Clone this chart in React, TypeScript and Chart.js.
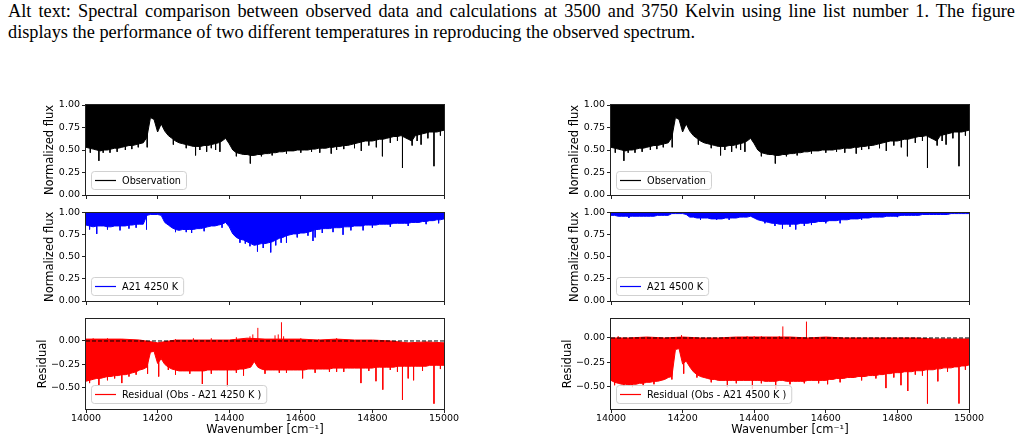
import React, { useEffect, useRef } from 'react';
import { Chart, registerables } from 'chart.js';

Chart.register(...registerables);

const FONT = "'DejaVu Sans', sans-serif";
const TICK_SIZE = 9.5;

// ---------------- data ----------------
const wavenumbers = Array.from({ length: 101 }, (_, i) => 14000 + 10 * i);
const coarseWavenumbers = Array.from({ length: 21 }, (_, i) => 14000 + 50 * i);
const xTicks = [14000, 14200, 14400, 14600, 14800, 15000];
const fluxTicks = [0, 0.25, 0.5, 0.75, 1.0];
const residualTicks = [-0.5, -0.25, 0.0];

// observed spectrum: lower envelope of the dense line forest (flux reaches 1.0 on top)
const obsLow = [
  0.53, 0.52, 0.51, 0.50, 0.49, 0.50, 0.50, 0.51, 0.52, 0.52,
  0.53, 0.54, 0.55, 0.55, 0.56, 0.57, 0.58, 0.64, 0.86, 0.84,
  0.70, 0.79, 0.71, 0.66, 0.63, 0.60, 0.58, 0.57, 0.56, 0.55,
  0.54, 0.54, 0.54, 0.55, 0.55, 0.56, 0.57, 0.58, 0.60, 0.63,
  0.57, 0.50, 0.47, 0.46, 0.45, 0.45, 0.44, 0.44, 0.45, 0.45,
  0.46, 0.46, 0.47, 0.47, 0.48, 0.48, 0.49, 0.49, 0.49, 0.50,
  0.50, 0.50, 0.50, 0.51, 0.51, 0.52, 0.52, 0.52, 0.53, 0.53,
  0.54, 0.54, 0.55, 0.55, 0.56, 0.57, 0.58, 0.59, 0.60, 0.60,
  0.60, 0.61, 0.62, 0.62, 0.63, 0.64, 0.65, 0.65, 0.66, 0.64,
  0.62, 0.60, 0.66, 0.67, 0.68, 0.69, 0.70, 0.70, 0.70, 0.71,
  0.72,
];
const obsLines: [number, number][] = [
  [14012, 0.47], [14036, 0.38], [14048, 0.47], [14067, 0.47], [14087, 0.48],
  [14110, 0.50], [14128, 0.51], [14146, 0.53], [14171, 0.53], [14244, 0.56],
  [14280, 0.52], [14306, 0.44], [14318, 0.50], [14337, 0.48], [14350, 0.52],
  [14362, 0.50], [14374, 0.48], [14420, 0.43], [14459, 0.35], [14490, 0.43],
  [14520, 0.44], [14560, 0.46], [14600, 0.47], [14630, 0.48], [14653, 0.47],
  [14685, 0.46], [14700, 0.50], [14720, 0.51], [14750, 0.52], [14769, 0.49],
  [14790, 0.55], [14811, 0.53], [14828, 0.43], [14850, 0.58], [14870, 0.60],
  [14884, 0.30], [14911, 0.55], [14925, 0.60], [14936, 0.56], [14955, 0.63],
  [14972, 0.32], [14990, 0.66],
];

// A21 4250 K model
const model4250Low = [
  0.86, 0.85, 0.84, 0.85, 0.85, 0.85, 0.84, 0.84, 0.85, 0.85,
  0.85, 0.85, 0.86, 0.86, 0.87, 0.87, 0.87, 0.97, 0.98, 0.98,
  0.98, 0.97, 0.89, 0.86, 0.83, 0.81, 0.80, 0.81, 0.81, 0.81,
  0.81, 0.82, 0.82, 0.83, 0.84, 0.85, 0.85, 0.86, 0.87, 0.89,
  0.84, 0.76, 0.72, 0.70, 0.69, 0.67, 0.65, 0.63, 0.64, 0.65,
  0.65, 0.66, 0.67, 0.69, 0.71, 0.72, 0.74, 0.75, 0.76, 0.76,
  0.77, 0.77, 0.78, 0.79, 0.81, 0.81, 0.82, 0.82, 0.82, 0.83,
  0.83, 0.83, 0.84, 0.84, 0.84, 0.85, 0.85, 0.85, 0.86, 0.86,
  0.86, 0.86, 0.87, 0.87, 0.87, 0.87, 0.88, 0.88, 0.88, 0.88,
  0.88, 0.89, 0.89, 0.89, 0.90, 0.90, 0.91, 0.91, 0.92, 0.92,
  0.93,
];
const model4250Lines: [number, number][] = [
  [14010, 0.81], [14030, 0.76], [14060, 0.81], [14095, 0.80], [14120, 0.82],
  [14140, 0.83], [14169, 0.81], [14250, 0.78], [14280, 0.78], [14295, 0.77],
  [14330, 0.79], [14380, 0.83], [14430, 0.66], [14445, 0.65], [14458, 0.62],
  [14479, 0.56], [14495, 0.60], [14516, 0.55], [14530, 0.63], [14545, 0.66],
  [14560, 0.66], [14590, 0.72], [14620, 0.74], [14634, 0.68], [14640, 0.72],
  [14660, 0.77], [14690, 0.78], [14718, 0.75], [14740, 0.80], [14774, 0.80],
  [14800, 0.83], [14850, 0.84], [14900, 0.85], [14950, 0.87], [14985, 0.88],
];

// A21 4500 K model
const model4500Low = [
  0.97, 0.97, 0.96, 0.96, 0.96, 0.96, 0.96, 0.96, 0.96, 0.96,
  0.96, 0.96, 0.96, 0.97, 0.97, 0.97, 0.97, 0.99, 0.99, 0.99,
  0.99, 0.98, 0.95, 0.95, 0.94, 0.94, 0.94, 0.94, 0.93, 0.93,
  0.93, 0.93, 0.94, 0.94, 0.94, 0.94, 0.95, 0.95, 0.95, 0.96,
  0.94, 0.92, 0.91, 0.90, 0.89, 0.88, 0.88, 0.87, 0.87, 0.87,
  0.87, 0.87, 0.87, 0.88, 0.88, 0.88, 0.89, 0.89, 0.90, 0.90,
  0.90, 0.91, 0.91, 0.91, 0.92, 0.92, 0.92, 0.93, 0.93, 0.93,
  0.94, 0.94, 0.94, 0.95, 0.95, 0.95, 0.95, 0.96, 0.96, 0.96,
  0.96, 0.97, 0.97, 0.97, 0.97, 0.97, 0.97, 0.98, 0.98, 0.98,
  0.98, 0.98, 0.98, 0.98, 0.98, 0.99, 0.99, 0.99, 0.99, 0.99,
  0.99,
];
const model4500Lines: [number, number][] = [
  [14050, 0.94], [14250, 0.92], [14295, 0.92], [14330, 0.92], [14430, 0.88],
  [14458, 0.85], [14479, 0.82], [14500, 0.84], [14516, 0.81], [14540, 0.85],
  [14560, 0.86], [14600, 0.88], [14640, 0.88], [14700, 0.92], [14800, 0.95],
];

// residual Obs - A21 4250 K
const resid4250Low = [
  -0.43, -0.42, -0.41, -0.40, -0.40, -0.39, -0.38, -0.38, -0.37, -0.37,
  -0.36, -0.36, -0.35, -0.34, -0.33, -0.31, -0.30, -0.28, -0.12, -0.11,
  -0.24, -0.19, -0.25, -0.28, -0.30, -0.31, -0.32, -0.32, -0.32, -0.32,
  -0.32, -0.32, -0.32, -0.32, -0.31, -0.31, -0.31, -0.31, -0.31, -0.31,
  -0.31, -0.31, -0.31, -0.30, -0.30, -0.29, -0.28, -0.22, -0.28, -0.30,
  -0.31, -0.31, -0.31, -0.31, -0.31, -0.31, -0.31, -0.31, -0.31, -0.31,
  -0.31, -0.31, -0.30, -0.30, -0.30, -0.30, -0.30, -0.30, -0.30, -0.29,
  -0.29, -0.29, -0.29, -0.29, -0.29, -0.29, -0.29, -0.29, -0.29, -0.29,
  -0.29, -0.28, -0.28, -0.28, -0.28, -0.28, -0.28, -0.27, -0.27, -0.27,
  -0.27, -0.27, -0.27, -0.27, -0.27, -0.27, -0.26, -0.26, -0.26, -0.26,
  -0.26,
];
const resid4250High = [
  0.02, 0.02, 0.02, 0.01, -0.02, 0.01, 0.01, 0.01, 0.01, 0.03, 0.02,
  0.02, 0.02, 0.01, 0.02, 0.01, 0.01, 0.00, -0.02, -0.01, -0.02,
];
const resid4250DownLines: [number, number][] = [
  [14010, -0.45], [14036, -0.47], [14060, -0.42], [14080, -0.40], [14100, -0.45],
  [14120, -0.38], [14140, -0.36], [14172, -0.35], [14203, -0.38], [14230, -0.31],
  [14250, -0.36], [14290, -0.35], [14325, -0.46], [14350, -0.35], [14395, -0.49],
  [14420, -0.34], [14440, -0.37], [14500, -0.35], [14540, -0.34], [14560, -0.34],
  [14605, -0.40], [14640, -0.34], [14680, -0.33], [14700, -0.33], [14720, -0.33],
  [14768, -0.45], [14790, -0.32], [14810, -0.43], [14829, -0.52], [14850, -0.31],
  [14870, -0.33], [14884, -0.63], [14900, -0.40], [14915, -0.42], [14940, -0.32],
  [14972, -0.67], [14990, -0.30],
];
const resid4250UpLines: [number, number][] = [
  [14020, 0.03], [14060, 0.03], [14100, 0.02], [14250, 0.02], [14300, 0.03],
  [14350, 0.03], [14420, 0.04], [14458, 0.05], [14466, 0.07], [14480, 0.14],
  [14528, 0.06], [14537, 0.07], [14546, 0.20], [14552, 0.05], [14600, 0.03],
  [14650, 0.02], [14700, 0.03],
];

// residual Obs - A21 4500 K
const resid4500Low = [
  -0.44, -0.46, -0.47, -0.48, -0.48, -0.49, -0.48, -0.48, -0.47, -0.47,
  -0.46, -0.46, -0.45, -0.45, -0.44, -0.43, -0.41, -0.40, -0.12, -0.11,
  -0.27, -0.24, -0.30, -0.35, -0.38, -0.40, -0.41, -0.42, -0.43, -0.43,
  -0.44, -0.44, -0.44, -0.44, -0.44, -0.44, -0.44, -0.44, -0.44, -0.44,
  -0.44, -0.44, -0.44, -0.45, -0.45, -0.45, -0.45, -0.44, -0.44, -0.45,
  -0.45, -0.45, -0.45, -0.45, -0.45, -0.44, -0.44, -0.44, -0.44, -0.44,
  -0.44, -0.43, -0.43, -0.42, -0.42, -0.42, -0.41, -0.41, -0.41, -0.40,
  -0.40, -0.40, -0.39, -0.39, -0.39, -0.38, -0.38, -0.37, -0.37, -0.36,
  -0.36, -0.36, -0.35, -0.35, -0.35, -0.34, -0.34, -0.34, -0.33, -0.33,
  -0.33, -0.32, -0.32, -0.31, -0.31, -0.31, -0.30, -0.30, -0.29, -0.29,
  -0.28,
];
const resid4500High = [
  0.00, 0.00, 0.01, 0.00, 0.01, 0.00, 0.00, 0.01, 0.01, 0.01, 0.01,
  0.00, 0.01, 0.00, 0.00, 0.00, 0.00, 0.00, -0.01, -0.01, -0.01,
];
const resid4500DownLines: [number, number][] = [
  [14010, -0.49], [14036, -0.50], [14060, -0.51], [14090, -0.50], [14120, -0.48],
  [14170, -0.43], [14203, -0.37], [14240, -0.41], [14280, -0.46], [14325, -0.51],
  [14350, -0.47], [14395, -0.53], [14420, -0.47], [14460, -0.53], [14500, -0.48],
  [14540, -0.47], [14580, -0.47], [14605, -0.48], [14640, -0.46], [14700, -0.44],
  [14740, -0.42], [14768, -0.52], [14790, -0.41], [14810, -0.49], [14829, -0.55],
  [14850, -0.38], [14870, -0.39], [14884, -0.68], [14913, -0.45], [14940, -0.35],
  [14972, -0.68], [14990, -0.33],
];
const resid4500UpLines: [number, number][] = [
  [14020, 0.02], [14100, 0.01], [14197, 0.03], [14380, 0.02], [14400, 0.02],
  [14420, 0.02], [14470, 0.02], [14480, 0.12], [14546, 0.17],
];

const zeroLine = [0, 0];
const zeroLineX = [14000, 15000];

// ---------------- helpers ----------------
const toPoints = (xs: number[], ys: number[]) => xs.map((x, i) => ({ x, y: ys[i] }));
const toSegments = (lines: [number, number][], base: number) =>
  lines.flatMap(([x, y]) => [{ x, y: base }, { x, y }, { x, y: null }]);

const fmtTick = (v: any) => {
  const n = Number(v);
  const s = Math.abs(n).toFixed(2);
  return n < -1e-9 ? '\u2212' + s : s;
};

const framePlugin = {
  id: 'frame',
  afterDatasetsDraw(chart: any) {
    const { ctx, chartArea: a } = chart;
    ctx.save();
    ctx.strokeStyle = '#222';
    ctx.lineWidth = 1;
    ctx.strokeRect(Math.round(a.left) - 0.5, Math.round(a.top) - 0.5, Math.round(a.right - a.left) + 1, Math.round(a.bottom - a.top) + 1);
    ctx.restore();
  },
};

const boxLegendPlugin = {
  id: 'boxLegend',
  afterDraw(chart: any, _args: any, opts: any) {
    if (!opts || !opts.text) return;
    const { ctx, chartArea: a } = chart;
    ctx.save();
    ctx.font = `9.7px ${FONT}`;
    const tw = ctx.measureText(opts.text).width;
    const h = 18;
    const x = Math.round(a.left) + 5;
    const y = Math.round(a.bottom) - 6 - h;
    const w = 31 + tw + 5;
    ctx.beginPath();
    (ctx as any).roundRect(x + 0.5, y + 0.5, w, h, 3);
    ctx.fillStyle = 'rgba(255,255,255,0.8)';
    ctx.fill();
    ctx.strokeStyle = 'rgba(204,204,204,0.9)';
    ctx.lineWidth = 1;
    ctx.stroke();
    ctx.beginPath();
    ctx.moveTo(x + 4, y + h / 2 + 0.5);
    ctx.lineTo(x + 25, y + h / 2 + 0.5);
    ctx.strokeStyle = opts.color;
    ctx.lineWidth = 1.2;
    ctx.stroke();
    ctx.fillStyle = '#000';
    ctx.textBaseline = 'middle';
    ctx.textAlign = 'left';
    ctx.fillText(opts.text, x + 31, y + h / 2 + 1);
    ctx.restore();
  },
};

type Spec = {
  left: number; top: number; width: number; height: number;
  padTop: number; xAxisHeight: number; showX: boolean;
  yMin: number; yMax: number; yTicks: number[];
  yTitle: string; yTitlePad: number;
  legendText: string; legendColor: string;
  datasets: any[];
};

function buildConfig(s: Spec): any {
  return {
    type: 'line',
    data: { datasets: s.datasets },
    options: {
      animation: false,
      responsive: false,
      events: [],
      layout: { padding: { top: s.padTop, right: 26, left: 0, bottom: 0 } },
      elements: { point: { radius: 0 }, line: { tension: 0 } },
      plugins: {
        legend: { display: false },
        tooltip: { enabled: false },
        boxLegend: { text: s.legendText, color: s.legendColor },
      },
      scales: {
        x: {
          type: 'linear',
          min: 14000,
          max: 15000,
          afterBuildTicks: (sc: any) => { sc.ticks = xTicks.map((v) => ({ value: v })); },
          afterFit: (sc: any) => { sc.height = s.xAxisHeight; },
          ticks: {
            display: s.showX,
            autoSkip: false,
            maxRotation: 0,
            padding: 0,
            color: '#000',
            font: { family: FONT, size: TICK_SIZE },
            callback: (v: any) => String(v),
          },
          grid: { drawOnChartArea: false, drawTicks: true, tickLength: 4, tickColor: '#222', tickWidth: 1 },
          border: { display: false },
          title: {
            display: s.showX,
            text: 'Wavenumber [cm\u207B\u00B9]',
            color: '#000',
            font: { family: FONT, size: 11.5 },
            padding: { top: 0, bottom: 4 },
          },
        },
        y: {
          type: 'linear',
          min: s.yMin,
          max: s.yMax,
          afterBuildTicks: (sc: any) => { sc.ticks = s.yTicks.map((v) => ({ value: v })); },
          afterFit: (sc: any) => { sc.width = 66; },
          ticks: {
            padding: 2,
            color: '#000',
            font: { family: FONT, size: TICK_SIZE },
            callback: fmtTick,
          },
          grid: { drawOnChartArea: false, drawTicks: true, tickLength: 4, tickColor: '#222', tickWidth: 1 },
          border: { display: false },
          title: {
            display: true,
            text: s.yTitle,
            color: '#000',
            font: { family: FONT, size: 11.5 },
            padding: { top: s.yTitlePad, bottom: 0 },
          },
        },
      },
    },
    plugins: [framePlugin, boxLegendPlugin],
  };
}

function Panel({ spec }: { spec: Spec }) {
  const ref = useRef<HTMLCanvasElement>(null);
  useEffect(() => {
    if (!ref.current) return;
    const chart = new Chart(ref.current, buildConfig(spec));
    return () => chart.destroy();
  }, []);
  return (
    <canvas
      ref={ref}
      width={spec.width}
      height={spec.height}
      style={{ position: 'absolute', left: spec.left, top: spec.top, width: spec.width, height: spec.height }}
    />
  );
}

const line = (data: any[], color: string, extra: any = {}) => ({
  data,
  borderColor: color,
  backgroundColor: color,
  borderWidth: 1,
  pointRadius: 0,
  fill: false,
  spanGaps: false,
  ...extra,
});

function fluxDatasets(low: number[], lines: [number, number][], color: string) {
  return [
    line(toSegments(lines, 1.0), color),
    line(toPoints(wavenumbers, low), color, { fill: 'end' }),
  ];
}

function residDatasets(low: number[], high: number[], down: [number, number][], up: [number, number][]) {
  const red = '#ff0000';
  return [
    line(toPoints(zeroLineX, zeroLine), '#000', { borderDash: [4, 2], borderWidth: 1 }),
    line(toSegments(down, -0.15), red),
    line(toSegments(up, -0.05), red),
    line(toPoints(wavenumbers, low), red, { fill: 'start', backgroundColor: '#ffffff' }),
    line(toPoints(coarseWavenumbers, high), red, { fill: 'start' }),
  ];
}

const columns = [
  { left: 20, model: 'A21 4250 K', modelLow: model4250Low, modelLines: model4250Lines,
    rLow: resid4250Low, rHigh: resid4250High, rDown: resid4250DownLines, rUp: resid4250UpLines,
    rMin: -0.727, rMax: 0.238 },
  { left: 545, model: 'A21 4500 K', modelLow: model4500Low, modelLines: model4500Lines,
    rLow: resid4500Low, rHigh: resid4500High, rDown: resid4500DownLines, rUp: resid4500UpLines,
    rMin: -0.737, rMax: 0.2 },
];

export default function App() {
  const specs: Spec[] = [];
  columns.forEach((c) => {
    specs.push({
      left: c.left, top: 95, width: 450, height: 110, padTop: 10, xAxisHeight: 10, showX: false,
      yMin: 0, yMax: 1, yTicks: fluxTicks, yTitle: 'Normalized flux', yTitlePad: 23,
      legendText: 'Observation', legendColor: '#000',
      datasets: fluxDatasets(obsLow, obsLines, '#000000'),
    });
    specs.push({
      left: c.left, top: 205, width: 450, height: 106, padTop: 7, xAxisHeight: 10, showX: false,
      yMin: 0, yMax: 1, yTicks: fluxTicks, yTitle: 'Normalized flux', yTitlePad: 23,
      legendText: c.model, legendColor: '#0000ff',
      datasets: fluxDatasets(c.modelLow, c.modelLines, '#0000ff'),
    });
    specs.push({
      left: c.left, top: 311, width: 450, height: 130, padTop: 7, xAxisHeight: 32, showX: true,
      yMin: c.rMin, yMax: c.rMax, yTicks: residualTicks, yTitle: 'Residual', yTitlePad: 16,
      legendText: `Residual (Obs - ${c.model} )`, legendColor: '#ff0000',
      datasets: residDatasets(c.rLow, c.rHigh, c.rDown, c.rUp),
    });
  });

  return (
    <>
      <div
        style={{
          position: 'absolute', left: 8, top: 1, width: 1007,
          fontFamily: "'Liberation Serif', 'Times New Roman', serif",
          fontSize: 18.3, lineHeight: '21px', color: '#000',
        }}
      >
        <div style={{ textAlign: 'justify', textAlignLast: 'justify' }}>
          Alt text: Spectral comparison between observed data and calculations at 3500 and 3750 Kelvin using line list number 1. The figure
        </div>
        <div>displays the performance of two different temperatures in reproducing the observed spectrum.</div>
      </div>
      {specs.map((s, i) => (
        <Panel key={i} spec={s} />
      ))}
    </>
  );
}
